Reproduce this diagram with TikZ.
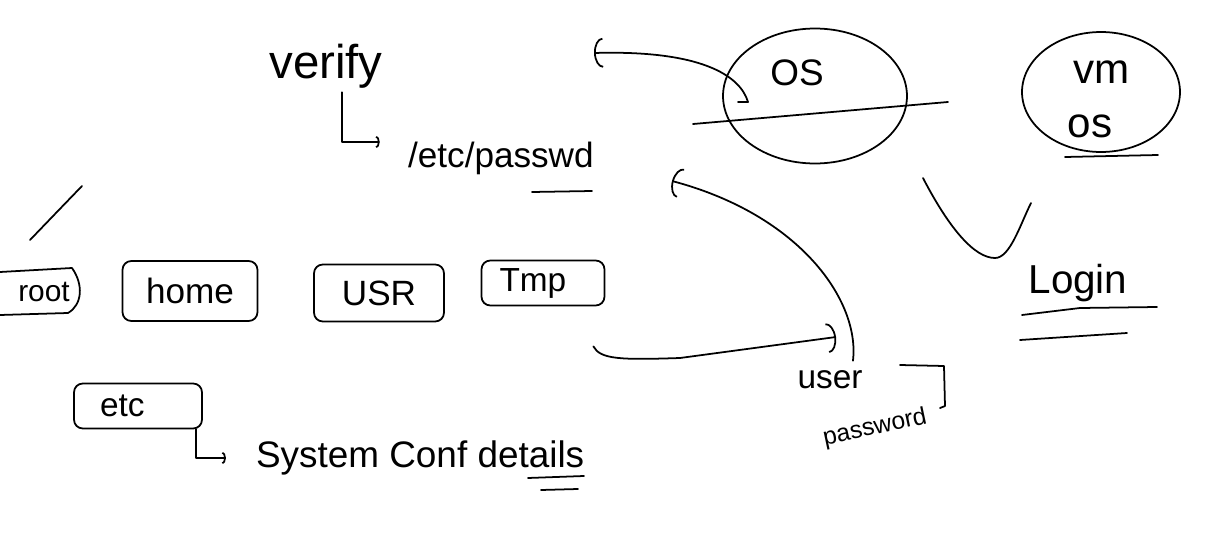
\documentclass[tikz,border=0pt]{standalone}
\usepackage{fontspec}
\setmainfont{Liberation Sans}
\usepackage{tikz}
\usetikzlibrary{arrows.meta,shapes.geometric,positioning,calc}
\newcommand{\fs}[1]{\fontsize{#1}{#1}\selectfont}
\tikzstyle{stroke} = [line width=1pt, line cap=round, line join=round]
\tikzstyle{folder} = [draw, stroke, rectangle, rounded corners=5pt, inner sep=0pt,
    minimum height=0.9cm]
\tikzstyle{bubble} = [draw, stroke, ellipse, inner sep=0pt]
\tikzstyle{hand} = [inner sep=1pt]
\tikzstyle{connector} = [stroke, -{Arc Barb[length=5pt,width=17pt]}]
\tikzstyle{elbow} = [stroke, -{Arc Barb[length=2pt,width=7pt]}]

\begin{document}
\begin{tikzpicture}[x=0.02cm, y=-0.02cm]
	\useasboundingbox (0,0) rectangle (1232,534);

	% passwd file
	\node[hand, font=\fs{27}] (verify) at (326,66) {verify};
	\node[hand, font=\fs{20}, anchor=west] (passwd) at (406,158) {/etc/passwd};
	\draw[elbow, shorten >=15pt] ($(verify.south)+(16,2)$) |- ($(passwd.west)+(0,-16)$);
	\draw[stroke] (532,192) -- (592,191);

	% directories
	\draw[stroke] (30,240) -- (55,214) -- (82,186);
	\node[hand, font=\fs{17}] (root) at (44,292) {root};
	\draw[stroke] (0,272) -- (72,268) .. controls (84,285) and (82,305) .. (68,313) -- (0,315);
	\node[folder, minimum width=2.7cm, minimum height=1.2cm, font=\fs{20}] (home) at (190,291) {home};
	\node[folder, minimum width=2.6cm, minimum height=1.14cm, font=\fs{20}] (usr) at (379,293) {USR};
	\node[folder, inner xsep=0.36cm, text width=1.74cm, font=\fs{19}] (tmp) at (543,283) {Tmp};
	\node[folder, inner xsep=0.52cm, text width=1.52cm, font=\fs{19}] (etc) at (138,406) {etc};
	\node[hand, font=\fs{21}, anchor=west] (sysconf) at (254,458) {System Conf details};
	\draw[elbow, shorten >=16pt] ($(etc.south east)+(-7,0)$) |- (sysconf.west);
	\draw[stroke] (528,478) -- (584,476);
	\draw[stroke] (541,490) -- (578,489);

	% operating systems
	\node[bubble, minimum width=3.68cm, minimum height=2.7cm] (osring) at (815,96) {};
	\node[hand, font=\fs{21}] (os) at (797,73) {OS};
	\draw[stroke] (693,124) -- (948,102);
	\node[bubble, minimum width=3.16cm, minimum height=2.4cm] (vmring) at (1101,92) {};
	\node[hand, font=\fs{24}] (vm) at (1102,72) {vm};
	\node[hand, font=\fs{24}] (vmos) at (1090,126) {os};
	\draw[stroke] (1065,157) -- (1158,155);

	% login
	\draw[stroke] (923,178) .. controls (950,230) and (975,258) .. (995,258)
		.. controls (1010,258) and (1020,225) .. (1031,203);
	\node[hand, font=\fs{23}] (login) at (1078,283) {Login};
	\draw[stroke] (1022,315) -- (1080,308) -- (1157,307);
	\draw[stroke] (1020,340) -- (1127,333);

	% credentials
	\node[hand, font=\fs{19}] (user) at (830,380) {user};
	\node[hand, font=\fs{14}, rotate=12] (password) at (875,428) {password};
	\draw[stroke] (900,365) -- (944,366) -- (945,406) -- (940,408);

	\coordinate (osin) at (748,102);
	\coordinate (osback) at (594,53);
	\coordinate (passback) at (672,181);
	\coordinate (userin) at (836,337);
	\draw[connector] (osin) ++(-10,0) -- (osin) .. controls +(-8,-27) and +(106,-3) .. (osback);
	\draw[connector] ($(user.north)+(23,-8)$) .. controls +(7,-60) and +(128,34) .. (passback);
	\draw[connector] ($(tmp.south east)+(-12,40)$) .. controls +(7,13) and +(-60,2) .. (680,358) -- (userin);
\end{tikzpicture}
\end{document}
